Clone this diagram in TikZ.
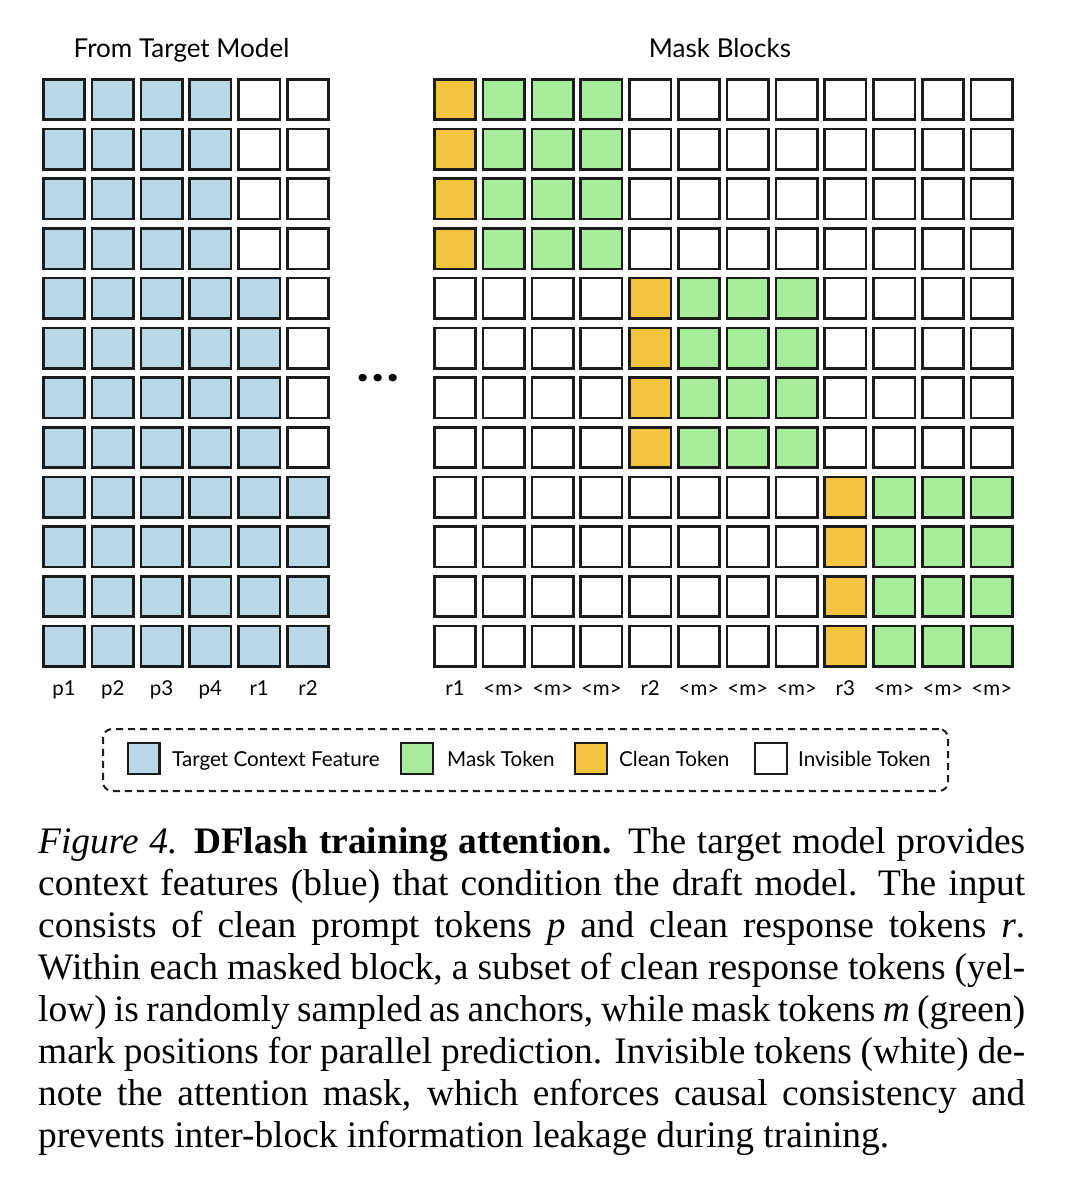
\documentclass[tikz,border=0pt]{standalone}
\usepackage{fontspec}
\setmainfont{Liberation Serif}
\setsansfont{Lato}
\newfontfamily\dotsfont{Poppins}
\usetikzlibrary{calc}

\definecolor{ctxblue}{HTML}{B8D8E6}
\definecolor{maskgreen}{HTML}{A7EC9B}
\definecolor{cleanyellow}{HTML}{F3C43E}
\definecolor{edgegray}{HTML}{1C1C1C}

\begin{document}
\begin{tikzpicture}[x=1pt,y=-1pt,
  cell/.style={draw=edgegray,line width=2.6pt,minimum width=41.4pt,minimum height=40.4pt,inner sep=0pt},
  keycell/.style={draw=edgegray,line width=2.2pt,minimum width=31.8pt,minimum height=31pt,inner sep=0pt},
  lbl/.style={font=\sffamily\fontsize{20.5}{20.5}\selectfont,anchor=base,inner sep=0pt},
  ttl/.style={font=\sffamily\fontsize{26}{26}\selectfont,anchor=base,inner sep=0pt},
  keytxt/.style={font=\sffamily\fontsize{20.6}{20.6}\selectfont,anchor=base west,inner sep=0pt},
  capline/.style={font=\fontsize{37.4}{42}\selectfont,anchor=base west,inner sep=0pt}]
  \useasboundingbox (0,0) rectangle (1072,1200);
  \def\dx{48.8}\def\dy{49.7}
  % titles
  \node[ttl] (ttlL) at (181.5,57) {From Target Model};
  \node[ttl] (ttlR) at (720,57) {Mask Blocks};
  % left grid: features from the target model
  \foreach \r in {0,...,11}{
    \pgfmathtruncatemacro\nb{\r<4 ? 4 : (\r<8 ? 5 : 6)}
    \foreach \c in {0,...,5}{
      \ifnum\c<\nb \def\fc{ctxblue}\else\def\fc{white}\fi
      \node[cell,fill=\fc] (L-\r-\c) at ({64+\dx*\c},{99.5+\dy*\r}) {};
    }
  }
  % right grid: one clean token + three mask tokens per block
  \foreach \r in {0,...,11}{
    \foreach \c in {0,...,11}{
      \pgfmathtruncatemacro\k{\c-4*int(\r/4)}
      \ifnum\k=0 \def\fc{cleanyellow}\else
        \ifnum\k>0 \ifnum\k<4 \def\fc{maskgreen}\else\def\fc{white}\fi
        \else\def\fc{white}\fi
      \fi
      \node[cell,fill=\fc] (R-\r-\c) at ({455+\dx*\c},{99.5+\dy*\r}) {};
    }
  }
  % column labels
  \foreach \t [count=\i from 0] in {p1,p2,p3,p4,r1,r2}
    \node[lbl] (Llab-\i) at ({64+\dx*\i},695) {\t};
  \foreach \t [count=\i from 0] in {r1,<m>,<m>,<m>,r2,<m>,<m>,<m>,r3,<m>,<m>,<m>}
    \node[lbl] (Rlab-\i) at ({455+\dx*\i},695) {\t};
  \node[font=\dotsfont\bfseries\fontsize{40}{40}\selectfont,inner sep=0pt,anchor=base] (dots) at (378,381) {.\kern4pt.\kern4pt.};
  % legend
  \node[draw=edgegray,dash pattern=on 7pt off 5pt,line width=2pt,rounded corners=9pt,
    minimum width=845pt,minimum height=62pt,inner sep=0pt] (key) at (525.5,760) {};
  \node[keycell,fill=ctxblue] (k1) at (143.5,758.5) {};
  \node[keytxt] (k1t) at (172,766) {Target Context Feature};
  \node[keycell,fill=maskgreen] (k2) at (417,758.5) {};
  \node[keytxt] (k2t) at (447,766) {Mask Token};
  \node[keycell,fill=cleanyellow] (k3) at (591,758.5) {};
  \node[keytxt] (k3t) at (619,766) {Clean Token};
  \node[keycell,fill=white] (k4) at (771,758.5) {};
  \node[keytxt] (k4t) at (798,766) {Invisible Token};
  % caption
  \node[capline] (cap1) at (38,853.2) {\makebox[987pt][s]{\textit{Figure 4.} \textbf{DFlash training attention.} The target model provides}};
  \node[capline] (cap2) at (38,895.3) {\makebox[987pt][s]{context features (blue) that condition the draft model. The input}};
  \node[capline] (cap3) at (38,937.4) {\makebox[987pt][s]{consists of clean prompt tokens \textit{p} and clean response tokens \textit{r}.}};
  \node[capline] (cap4) at (38,979.5) {\makebox[987pt][s]{Within each masked block, a subset of clean response tokens (yel-}};
  \node[capline] (cap5) at (38,1021.6) {\makebox[987pt][s]{low) is randomly sampled as anchors, while mask tokens \textit{m} (green)}};
  \node[capline] (cap6) at (38,1063.7) {\makebox[987pt][s]{mark positions for parallel prediction. Invisible tokens (white) de-}};
  \node[capline] (cap7) at (38,1105.8) {\makebox[987pt][s]{note the attention mask, which enforces causal consistency and}};
  \node[capline] (cap8) at (38,1147.9) {prevents inter-block information leakage during training.};
\end{tikzpicture}
\end{document}
